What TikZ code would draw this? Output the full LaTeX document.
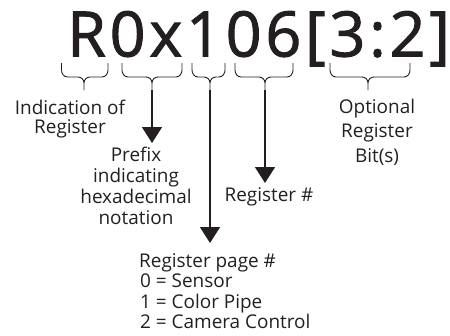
\documentclass[tikz,border=0pt]{standalone}
\usepackage{fontspec}
\setmainfont{Open Sans}
\newfontfamily\bigfont[LetterSpace=6,FakeBold=1.5]{Open Sans}
\usetikzlibrary{arrows.meta}
\definecolor{ink}{HTML}{231F20}
\tikzset{
  lbl/.style={inner sep=0, anchor=base, text=ink, font=\fontsize{19}{22}\selectfont},
  lblw/.style={lbl, anchor=base west},
  bracepath/.style={draw=ink, line width=0.9bp, line join=round},
  pointer/.style={draw=ink, line width=1.6bp, -{Triangle[width=20bp,length=16bp]}},
}
\newcommand\mybrace[4]{% name, left, middle, right
  \draw[bracepath] (#2,63) -- (#2,70) to[out=-90,in=180] ({#2+6},77) -- ({#3-6},77)
     to[out=0,in=90] (#3,83) -- (#3,90)
     (#3,83) to[out=90,in=180] ({#3+6},77) -- ({#4-6},77) to[out=0,in=-90] (#4,70) -- (#4,63);
  \coordinate (#1) at (#3,90);
}
\begin{document}
\begin{tikzpicture}[x=1bp,y=-1bp]
\useasboundingbox (0,0) rectangle (450,335);
\node[inner sep=0, anchor=base west, text=ink, font=\bigfont\fontsize{63}{70}\selectfont] (reg) at (67,56.5) {R0x106[3:2]};
\mybrace{t1}{61.5}{84}{108}
\mybrace{t2}{122}{152}{182}
\mybrace{t3}{192}{210}{225}
\mybrace{t4}{235}{265}{293}
\mybrace{t5}{330}{368}{410}
\coordinate (e2) at (152,143);
\coordinate (e3) at (210,243);
\coordinate (e4) at (265,183);
\draw[pointer] (t2) -- (e2);
\draw[pointer] (t3) -- (e3);
\draw[pointer] (t4) -- (e4);
\node[lbl] (ind1) at (70,114.5) {Indication of};
\node[lbl] (ind2) at (70,133) {Register};
\node[lbl] (pre1) at (136,161) {Prefix};
\node[lbl] (pre2) at (136,182) {indicating};
\node[lbl] (pre3) at (136,203) {hexadecimal};
\node[lbl] (pre4) at (136,224) {notation};
\node[lbl] (num) at (269,201) {Register \#};
\node[lbl] (opt1) at (377,113) {Optional};
\node[lbl] (opt2) at (377,137.5) {Register};
\node[lbl] (opt3) at (377,162) {Bit(s)};
\node[lblw] (pg0) at (139,267) {Register page \#};
\node[lblw] (pg1) at (140,287) {0 = Sensor};
\node[lblw] (pg2) at (140,308) {1 = Color Pipe};
\node[lblw] (pg3) at (140,328) {2 = Camera Control};
\end{tikzpicture}
\end{document}
